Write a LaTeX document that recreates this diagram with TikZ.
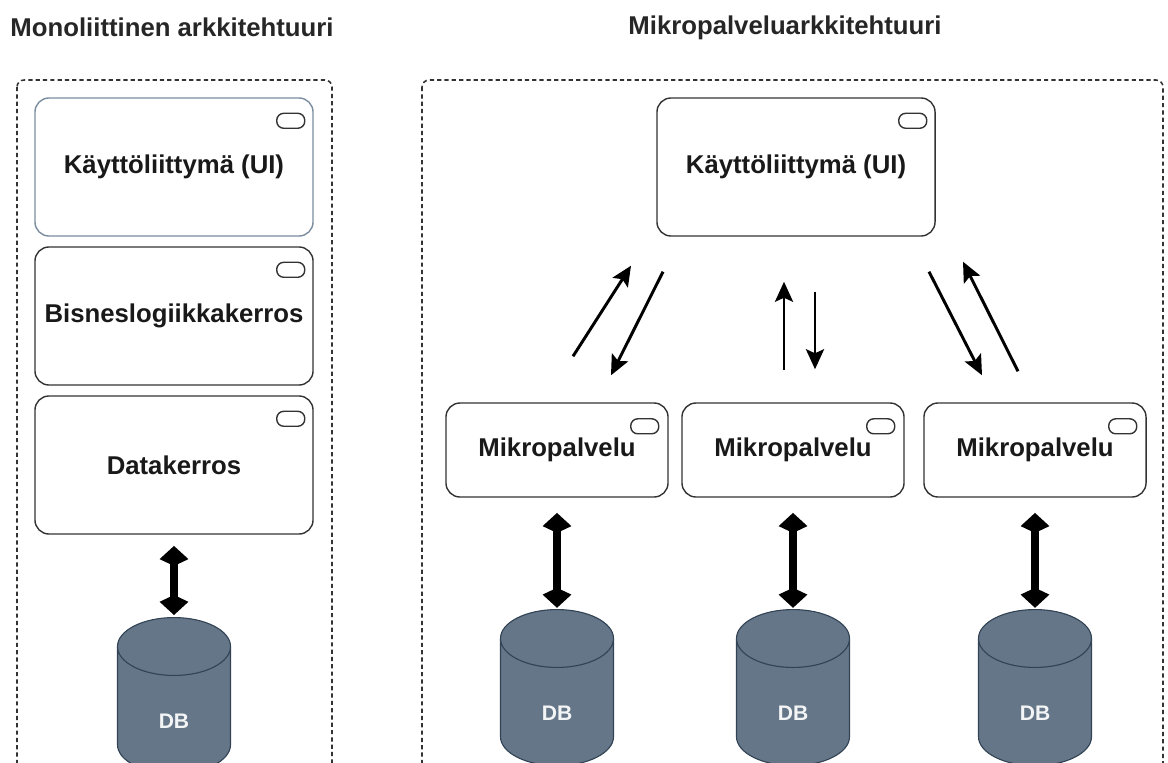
\documentclass[tikz,border=0pt]{standalone}
\usepackage{fontspec}
\setmainfont{Liberation Sans}
\usetikzlibrary{arrows.meta, positioning, shapes.geometric, calc}
\definecolor{liuske}{HTML}{647687}
\definecolor{liuskereuna}{HTML}{314354}
\definecolor{tumma}{HTML}{333333}
\definecolor{sinireuna}{HTML}{7A8C9E}
\tikzset{
  every picture/.style={font=\bfseries, >=Stealth},
  otsikko/.style={text=black!85, font=\fontsize{18.3}{22}\selectfont\bfseries, inner sep=0pt},
  kehys/.style={draw=tumma, line width=1.1pt, dash pattern=on 3pt off 2.2pt, rounded corners=5pt},
  kerros/.style={draw=tumma, line width=1pt, rounded corners=10pt, fill=white, text=black!90,
              minimum width=6.95cm, minimum height=3.45cm, inner sep=0pt,
              font=\fontsize{18.3}{22}\selectfont\bfseries, align=center},
  palvelu/.style={kerros, minimum width=5.55cm, minimum height=2.35cm},
  pilleri/.style={draw=tumma, line width=1pt, rounded corners=5pt, minimum width=0.7cm,
              minimum height=0.375cm, inner sep=0pt},
  kanta/.style={cylinder, shape border rotate=90, aspect=1.9, draw=liuskereuna, fill=liuske,
              line width=0.8pt, text=white!92!liuske, minimum width=2.825cm, minimum height=3.9cm,
              font=\fontsize{15}{16}\selectfont\bfseries, inner sep=0pt, text height=26pt, text depth=0pt},
  ohut/.style={-{Stealth[length=0.5cm, width=0.45cm, inset=0.1cm]}, line width=2.1pt, black},
  paksu/.style={{Kite[length=0.5cm, width=0.72cm, inset=0.17cm]}-{Kite[length=0.5cm, width=0.72cm, inset=0.17cm]},
              line width=0.22cm, black},
}
\begin{document}
\begin{tikzpicture}[x=0.025cm, y=-0.025cm]
  \useasboundingbox (0,0) rectangle (1168,762);
  \clip (0,0) rectangle (1168,762);
  % otsikot
  \node[otsikko] (t1) at (172,27) {Monoliittinen arkkitehtuuri};
  \node[otsikko] (t2) at (785,28) {Mikropalveluarkkitehtuuri};
  % kehykset
  \draw[kehys] (17,80) rectangle (332,790);
  \draw[kehys] (422,80) rectangle (1163,790);
  % monoliitti
  \node[kerros, draw=sinireuna] (k1) at (174,167) {Käyttöliittymä (UI)};
  \node[kerros] (k2) at (174,316) {Bisneslogiikkakerros};
  \node[kerros] (k3) at (174,465) {Datakerros};
  \node[pilleri] (p1) at ([shift={(-23,23.5)}]k1.north east) {};
  \node[pilleri] (p2) at ([shift={(-23,23.5)}]k2.north east) {};
  \node[pilleri] (p3) at ([shift={(-23,23.5)}]k3.north east) {};
  \node[kanta, anchor=north] (db0) at (174,617) {DB};
  \draw[paksu] ([yshift=-0.28cm]k3.south) -- ([yshift=0.05cm]db0.north);
  % mikropalvelut
  \node[kerros] (ui) at (796,167) {Käyttöliittymä (UI)};
  \node[pilleri] (p4) at ([shift={(-23,23.5)}]ui.north east) {};
  \node[palvelu] (m1) at (557,450) {Mikropalvelu};
  \node[palvelu] (m2) at (793,450) {Mikropalvelu};
  \node[palvelu] (m3) at (1035,450) {Mikropalvelu};
  \node[pilleri] (p5) at ([shift={(-24,24)}]m1.north east) {};
  \node[pilleri] (p6) at ([shift={(-24,24)}]m2.north east) {};
  \node[pilleri] (p7) at ([shift={(-24,24)}]m3.north east) {};
  \draw[ohut] ([shift={(16,-46)}]m1.north) -- ([shift={(-165,29)}]ui.south);
  \draw[ohut] ([shift={(-133,35)}]ui.south) -- ([shift={(54,-27)}]m1.north);
  \draw[ohut] ([shift={(-9,-32)}]m2.north) -- ([shift={(-12,45)}]ui.south);
  \draw[ohut] ([shift={(19,55)}]ui.south) -- ([shift={(22,-33)}]m2.north);
  \draw[ohut] ([shift={(133,35)}]ui.south) -- ([shift={(-53,-27)}]m3.north);
  \draw[ohut] ([shift={(-17,-31)}]m3.north) -- ([shift={(167,25)}]ui.south);
  \node[kanta, anchor=north] (db1) at (557,609) {DB};
  \node[kanta, anchor=north] (db2) at (793,609) {DB};
  \node[kanta, anchor=north] (db3) at (1035,609) {DB};
  \draw[paksu] ([yshift=-0.38cm]m1.south) -- ([yshift=0.03cm]db1.north);
  \draw[paksu] ([yshift=-0.38cm]m2.south) -- ([yshift=0.03cm]db2.north);
  \draw[paksu] ([yshift=-0.38cm]m3.south) -- ([yshift=0.03cm]db3.north);
\end{tikzpicture}
\end{document}
